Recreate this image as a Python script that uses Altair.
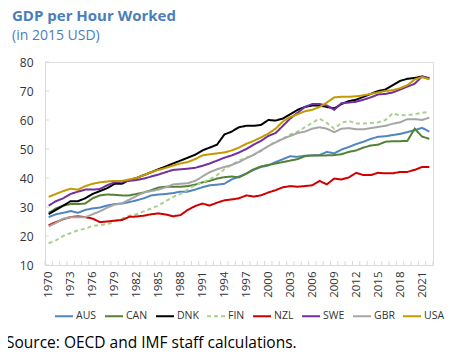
import altair as alt
import pandas as pd

years = list(range(1970, 2023))

AUS = [26.5, 27.5, 28.0, 28.6, 28.0, 29.0, 29.5, 29.8, 30.5, 31.0, 31.2, 31.7, 32.3, 33.0, 34.0, 34.3, 34.5, 34.8, 35.3, 35.3,
       36.0, 36.8, 37.5, 37.7, 38.0, 39.5, 40.5, 41.5, 42.8, 43.8, 44.3, 45.5, 46.5, 47.5, 47.3, 47.7, 47.8, 47.9, 49.0, 48.5,
       49.8, 50.7, 51.7, 52.5, 53.5, 54.2, 54.4, 54.8, 55.2, 55.8, 56.5, 57.3, 56.0]
CAN = [28.0, 29.5, 30.5, 31.0, 31.0, 31.2, 33.0, 34.0, 34.3, 34.2, 34.0, 34.0, 34.5, 35.0, 35.8, 36.7, 37.0, 37.0, 37.0, 37.2,
       37.7, 38.5, 39.0, 39.8, 40.3, 40.5, 40.2, 41.5, 43.0, 44.0, 44.5, 45.0, 45.5, 46.0, 46.5, 47.5, 47.8, 47.8, 47.8, 47.9,
       48.2, 49.0, 49.5, 50.5, 51.2, 51.5, 52.5, 52.7, 52.7, 52.8, 57.0, 54.3, 53.5]
DNK = [27.5, 29.0, 30.5, 32.0, 32.0, 33.0, 34.5, 35.5, 36.5, 38.0, 38.0, 39.3, 40.0, 41.0, 42.0, 43.0, 44.0, 45.0, 46.0, 47.0,
       48.0, 49.5, 50.5, 51.5, 55.0, 56.0, 57.5, 58.0, 58.0, 58.3, 60.0, 59.8, 60.5, 62.0, 63.5, 64.5, 65.0, 65.0, 64.5, 64.0,
       65.5, 66.5, 67.0, 68.0, 69.0, 70.0, 70.5, 72.0, 73.5, 74.2, 74.5, 75.0, 74.3]
FIN = [17.5, 18.5, 20.0, 21.0, 22.0, 22.5, 23.5, 23.8, 24.0, 25.0, 26.0, 27.0, 27.5, 28.5, 29.5, 30.5, 32.0, 33.5, 34.5, 36.0,
       37.5, 38.5, 39.5, 41.0, 43.0, 44.5, 46.0, 47.0, 48.0, 49.3, 51.0, 52.5, 53.5, 55.0, 56.0, 57.5, 59.0, 60.5, 59.0, 57.0,
       59.0, 59.7, 58.8, 58.8, 59.0, 59.2, 60.0, 62.3, 61.6, 61.7, 62.0, 62.5, 62.8]
NZL = [23.7, 24.8, 25.8, 26.5, 26.8, 26.5, 26.0, 24.8, 25.0, 25.3, 25.5, 26.6, 26.7, 27.0, 27.5, 27.8, 27.4, 26.8, 27.2, 29.0,
       30.3, 31.2, 30.5, 31.5, 32.3, 32.6, 33.0, 34.0, 33.6, 34.0, 35.0, 35.8, 36.8, 37.2, 37.0, 37.2, 37.5, 39.0, 37.8, 39.8,
       39.5, 40.2, 41.8, 41.0, 41.0, 41.8, 41.6, 41.6, 42.1, 42.1, 42.8, 43.8, 43.8]
SWE = [30.5, 32.0, 33.0, 34.5, 35.3, 36.0, 36.0, 36.2, 37.5, 38.5, 38.7, 39.0, 39.3, 39.8, 40.5, 41.2, 42.0, 42.8, 43.0, 43.2,
       43.5, 44.2, 45.0, 46.0, 47.0, 47.8, 48.8, 50.0, 51.5, 52.8, 54.5, 55.5, 58.0, 60.5, 62.5, 64.5, 65.5, 65.5, 65.0, 63.5,
       65.8, 66.0, 66.3, 67.0, 67.8, 68.8, 69.0, 69.5, 70.5, 71.5, 72.5, 75.0, 74.5]
GBR = [23.3, 24.5, 26.0, 26.5, 26.5, 26.5, 27.5, 28.5, 29.8, 30.8, 31.3, 32.5, 33.8, 35.0, 35.5, 36.0, 36.8, 37.8, 38.0, 38.2,
       39.0, 40.5, 42.0, 43.0, 43.8, 44.5, 45.5, 46.8, 48.0, 49.5, 51.0, 52.3, 53.5, 54.5, 55.5, 56.0, 57.0, 57.5, 57.0, 55.8,
       57.0, 57.2, 56.8, 56.8, 57.2, 57.6, 58.0, 58.7, 59.2, 60.3, 60.3, 60.0, 60.8]
USA = [33.5, 34.5, 35.5, 36.3, 36.0, 37.2, 38.0, 38.5, 38.8, 39.0, 39.0, 39.5, 40.0, 41.0, 42.0, 42.8, 43.5, 44.3, 45.0, 45.5,
       46.5, 47.8, 48.2, 48.5, 48.8, 49.5, 50.5, 51.8, 52.8, 54.0, 55.3, 57.0, 59.5, 61.0, 62.0, 63.0, 63.5, 64.5, 66.0, 67.8,
       68.0, 68.0, 68.2, 68.5, 69.0, 69.5, 70.0, 70.3, 71.0, 72.0, 74.0, 74.8, 74.0]

countries = ["AUS", "CAN", "DNK", "FIN", "NZL", "SWE", "GBR", "USA"]
colors = ["#4f86c0", "#548235", "#000000", "#a9d18e", "#d00000", "#7030a0", "#a6a6a6", "#c49a00"]
dashes = [[1, 0], [1, 0], [1, 0], [4, 3], [1, 0], [1, 0], [1, 0], [1, 0]]
series = [AUS, CAN, DNK, FIN, NZL, SWE, GBR, USA]

title_text = "GDP per Hour Worked"
subtitle_text = "(in 2015 USD)"
source_text = "Source: OECD and IMF staff calculations."
y_ticks = [10, 20, 30, 40, 50, 60, 70, 80]
x_labels = list(range(1970, 2022, 3))

rows = []
for c, vals in zip(countries, series):
    for yr, v in zip(years, vals):
        rows.append({"year": yr, "value": v, "country": c})
df = pd.DataFrame(rows)

W, H = 388, 203
FONT = "Open Sans"
x_scale = alt.Scale(domain=[1969.5, 2022.5], nice=False, zero=False)
y_scale = alt.Scale(domain=[10, 80], nice=False, zero=False)

x_axis = alt.Axis(values=x_labels, format="d", labelAngle=270, labelAlign="right",
                  labelBaseline="middle", ticks=False, labelPadding=6, grid=False,
                  domainColor="#d9d9d9", labelColor="#333333", labelFont=FONT,
                  labelFontSize=11.5, title=None, labelOverlap=False, labelFlush=False)
y_axis = alt.Axis(values=y_ticks, ticks=False, grid=False, domainColor="#d9d9d9",
                  labelColor="#333333", labelFont=FONT, labelFontSize=12, labelPadding=12,
                  title=None, labelOverlap=False, labelFlush=False)

legend_kw = dict(title=None, orient="none", legendX=9, legendY=244, direction="horizontal",
                 columns=8, symbolType="stroke", symbolSize=324, symbolStrokeWidth=2,
                 labelFont=FONT, labelFontSize=10.5, labelColor="#333333", labelOffset=2,
                 columnPadding=4)

lines = alt.Chart(df).mark_line(strokeWidth=2).encode(
    x=alt.X("year:Q", scale=x_scale, axis=x_axis),
    y=alt.Y("value:Q", scale=y_scale, axis=y_axis),
    color=alt.Color("country:N", scale=alt.Scale(domain=countries, range=colors), sort=countries,
                    legend=alt.Legend(**legend_kw)),
    strokeDash=alt.StrokeDash("country:N", scale=alt.Scale(domain=countries, range=dashes), sort=countries,
                              legend=alt.Legend(**legend_kw)),
    order=alt.Order("year:Q"),
)

tick_pos = [y - 0.5 for y in years] + [years[-1] + 0.5]
xticks = alt.Chart(pd.DataFrame({"t": tick_pos})).mark_rule(color="#d9d9d9", strokeWidth=1).encode(
    x=alt.X("t:Q", scale=x_scale, axis=x_axis), y=alt.value(H - 4), y2=alt.value(H))
yticks = alt.Chart(pd.DataFrame({"v": y_ticks})).mark_rule(color="#d9d9d9", strokeWidth=1).encode(
    y=alt.Y("v:Q", scale=y_scale, axis=y_axis), x=alt.value(0), x2=alt.value(4))

source = alt.Chart(pd.DataFrame({"s": [source_text]})).mark_text(
    align="left", baseline="bottom", font=FONT, fontSize=15.5, color="#000000").encode(
    text="s:N", x=alt.value(-39), y=alt.value(289))

chart = alt.layer(lines, xticks, yticks, source).properties(
    width=W, height=H,
    autosize=alt.AutoSizeParams(type="none"),
    padding={"left": 37, "top": 54, "right": 32, "bottom": 87},
    title=alt.TitleParams(text=title_text, subtitle=subtitle_text, anchor="start", frame="group",
                          dx=-33, offset=13, font=FONT, fontSize=15, fontWeight="bold", color="#4a7ebb",
                          subtitleFont=FONT, subtitleFontSize=14, subtitleColor="#4a7ebb", subtitlePadding=5),
).configure_view(stroke="#d9d9d9", strokeWidth=1).configure(background="white")

chart.save("out.html", embed_options={"renderer": "svg", "actions": False})
